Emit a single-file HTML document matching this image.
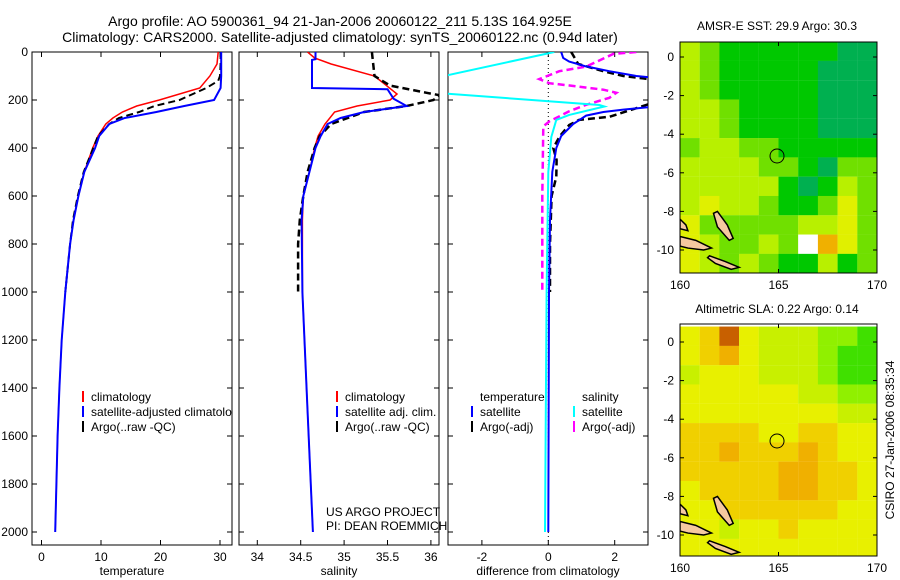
<!DOCTYPE html>
<html><head><meta charset="utf-8">
<style>
html,body{margin:0;padding:0;background:#fff;}
svg{display:block;font-family:"Liberation Sans",sans-serif;}
text{font-size:12px;fill:#000;}
</style></head>
<body>
<svg id="fig" width="900" height="580" viewBox="0 0 900 580" xmlns="http://www.w3.org/2000/svg">
<defs>
<clipPath id="c1"><rect x="32" y="52" width="200" height="493"/></clipPath>
<clipPath id="c2"><rect x="239" y="52" width="200" height="493"/></clipPath>
<clipPath id="c3"><rect x="448" y="52" width="200" height="493"/></clipPath>
<clipPath id="cm1"><rect x="680" y="42" width="197" height="231"/></clipPath>
<clipPath id="cm2"><rect x="680" y="324" width="197" height="232"/></clipPath>
</defs>
<text x="340" y="26" text-anchor="middle" style="font-size:14px">Argo profile: AO 5900361_94 21-Jan-2006 20060122_211 5.13S 164.925E</text>
<text x="340" y="42" text-anchor="middle" style="font-size:14px">Climatology: CARS2000. Satellite-adjusted climatology: synTS_20060122.nc (0.94d later)</text>
<g id="layer"></g>
<text x="777" y="30" text-anchor="middle">AMSR-E SST: 29.9 Argo: 30.3</text>
<text x="777" y="313" text-anchor="middle">Altimetric SLA: 0.22 Argo: 0.14</text>
<text transform="translate(894,440) rotate(-90)" text-anchor="middle">CSIRO 27-Jan-2006 08:35:34</text>
<text x="326" y="516">US ARGO PROJECT</text>
<text x="326" y="530">PI: DEAN ROEMMICH</text>
</svg>
<script>
// ---- data ----
const tDepth = [0,50,100,150,200,225,250,275,300,350,400,500,600,700,800,1000,1200,1400,1600,1800,2000];
const tClim  = [29.7,29.5,28.3,26.6,19.8,16,13.6,12,10.8,9.5,8.6,7.2,6.2,5.4,4.8,4.0,3.4,3.0,2.7,2.5,2.3];
const tSat   = [30.2,30.2,30.2,30.1,29,24,19.3,14,11.4,9.7,9.0,7.2,6.2,5.4,4.8,4.0,3.4,3.0,2.7,2.5,2.3];
const tArgoDepth = [0,50,100,120,150,200,225,250,275,300,350,400,500,600,700,800,1000];
const tArgo  = [30.1,30.1,30.0,29.7,27.7,23.2,19,16.4,13,11.4,9.5,8.7,7.1,6.1,5.3,4.8,4.0];
const sDepth = [0,25,50,100,175,200,225,250,300,350,400,500,600,700,1000,1500,2000];
const sClim  = [34.58,34.66,34.85,35.35,35.61,35.53,35.15,34.89,34.78,34.7,34.66,34.6,34.53,34.52,34.52,34.58,34.64];
const sSatDepth = [0,30,33,150,155,195,225,250,275,300,350,400,500,600,700,1000,1500,2000];
const sSat   = [34.67,34.67,34.63,34.63,35.5,35.57,35.72,35.23,34.96,34.81,34.73,34.67,34.6,34.53,34.51,34.52,34.58,34.64];
const sArgoDepth = [0,100,140,170,180,200,225,250,300,350,400,500,600,700,800,1000];
const sArgo  = [35.32,35.35,35.53,35.95,36.1,36.03,35.72,35.23,34.85,34.72,34.66,34.58,34.53,34.49,34.47,34.47];
const dTSatDepth = [0,25,40,60,80,100,110,225,230,240,250,265,300,350,400,500,700,1000,2000];
const dTSat  = [0.39,0.45,0.63,1.14,1.84,2.65,3.4,3.4,3.0,2.26,1.66,1.14,0.75,0.39,0.24,0.12,0.05,0.02,0];
const dTArgoDepth = [0,50,80,100,110,120,200,230,270,283,304,350,400,450,520,600,800,1000];
const dTArgo = [0.69,0.9,1.66,2.26,2.86,3.4,3.4,2.74,1.84,0.93,0.63,0.35,0.15,0.25,0.24,0.1,0.05,0.05];
const dSSatDepth = [0,108,170,221,227,262,283,354,500,1000,2000];
const dSSat  = [0.18,-3.4,-3.4,1.54,1.69,0.63,0.24,0.09,0.0,-0.05,-0.1];
const dSArgoDepth = [0,8,61,80,113,130,143,157,170,191,220,247,289,310,600,1000];
const dSArgo = [2.65,1.96,1.14,0.33,-0.27,0.03,0.84,1.66,2.05,1.84,1.14,0.63,0.03,-0.15,-0.18,-0.18];
const tTicks = [0,10,20,30];
const sTicks = [34,34.5,35,35.5,36];
const dTicks = [-2,0,2];
const depthTicks = [0,200,400,600,800,1000,1200,1400,1600,1800,2000];
const lonTicks = [160,165,170];
const latTicks = [0,-2,-4,-6,-8,-10];
const sstGrid = [
[3,2,1,1,1,1,1,1,0,0],
[3,2,1,1,1,1,1,0,0,0],
[3,2,1,1,1,1,1,0,0,0],
[3,3,2,1,1,1,1,0,0,0],
[3,3,2,1,1,1,1,0,0,0],
[2,3,3,2,2,1,1,1,1,1],
[3,3,3,3,2,2,1,0,2,2],
[3,3,3,3,3,1,0,1,3,2],
[3,4,3,3,2,1,1,2,4,2],
[4,2,2,2,2,2,3,3,4,2],
[4,3,2,2,3,2,6,5,4,2],
[4,3,2,3,2,1,1,3,1,2]];
const slaGrid = [
[4,5,7,4,3,3,3,2,2,1],
[4,5,6,4,3,3,3,2,1,1],
[3,4,4,4,3,3,3,2,1,1],
[4,4,4,4,4,4,3,3,2,2],
[4,4,4,4,4,4,4,4,3,3],
[5,5,5,5,4,4,5,5,4,4],
[5,5,6,5,5,5,6,5,4,4],
[5,5,5,5,5,6,6,5,5,4],
[4,5,5,5,5,6,6,5,5,4],
[4,4,5,5,5,5,5,5,4,4],
[4,4,3,4,4,5,4,4,4,4],
[4,4,4,4,4,4,4,4,4,4]];
const sstColors = ['#00b050','#00c800','#70e000','#b8f000','#e0f000','#f0b000','#ffffff'];
const slaColors = ['#00d000','#40e000','#90f000','#c8f000','#e8f000','#f0d000','#f0b000','#c86000'];

// ---- helpers ----
const NS='http://www.w3.org/2000/svg';
const layer=document.getElementById('layer');
function mk(tag,attrs,parent){const e=document.createElementNS(NS,tag);for(const k in attrs)e.setAttribute(k,attrs[k]);(parent||layer).appendChild(e);return e;}
const yD = d => 52 + d*0.24;
const xT = v => 41.5 + v*5.95;
const xS = v => 257.3 + (v-34)*86.8;
const xDf = v => 548.3 + v*33.2;

function frame(x,y,w,h,name){const r=mk('rect',{x:x,y:y,width:w,height:h,fill:'none',stroke:'#000','stroke-width':1});

}

function profile(depths,vals,xf,color,dash,width,clip,name){
  const pts=depths.map((d,i)=>xf(vals[i]).toFixed(1)+','+yD(d).toFixed(1)).join(' ');
  const p=mk('polyline',{points:pts,fill:'none',stroke:color,'stroke-width':width,'stroke-dasharray':dash||'none','clip-path':'url(#'+clip+')'});
  
  
}

const panels=[{x:32,w:200,xf:xT,ticks:tTicks,lab:'temperature',name:'temperature'},
{x:239,w:200,xf:xS,ticks:sTicks,lab:'salinity',name:'salinity'},
{x:448,w:200,xf:xDf,ticks:dTicks,lab:'difference from climatology',name:'difference'}];
panels.forEach((p,i)=>{
  frame(p.x,52,p.w,493,p.name+'-panel-frame');
  p.ticks.forEach(v=>{const x=p.xf(v);
    mk('line',{x1:x,x2:x,y1:545,y2:540,stroke:'#000'});mk('line',{x1:x,x2:x,y1:52,y2:57,stroke:'#000'});
    const t=mk('text',{x:x,y:561,'text-anchor':'middle'});t.textContent=String(v);
    
    });
  depthTicks.forEach(d=>{const y=yD(d);
    mk('line',{x1:p.x,x2:p.x+5,y1:y,y2:y,stroke:'#000'});mk('line',{x1:p.x+p.w-5,x2:p.x+p.w,y1:y,y2:y,stroke:'#000'});
    if(i===0){const t=mk('text',{x:28,y:y+4,'text-anchor':'end'});t.textContent=String(d);
    
    }});
  const xl=mk('text',{x:p.x+p.w/2,y:575,'text-anchor':'middle'});xl.textContent=p.lab;
  
  
});
mk('line',{x1:548.3,x2:548.3,y1:52,y2:545,stroke:'#000','stroke-dasharray':'1,3'});

profile(tDepth,tClim,xT,'#ff0000','',1.5,'c1','temp-climatology-line');
profile(tArgoDepth,tArgo,xT,'#000','7,4',2,'c1','temp-argo-line');
profile(tDepth,tSat,xT,'#0000ff','',2,'c1','temp-satellite-line');
profile(sDepth,sClim,xS,'#ff0000','',1.5,'c2','sal-climatology-line');
profile(sArgoDepth,sArgo,xS,'#000','7,4',2.5,'c2','sal-argo-line');
profile(sSatDepth,sSat,xS,'#0000ff','',2,'c2','sal-satellite-line');
profile(dSArgoDepth,dSArgo,xDf,'#ff00ff','7,4',2.5,'c3','sal-diff-argo-line');
profile(dTArgoDepth,dTArgo,xDf,'#000','7,4',2.5,'c3','temp-diff-argo-line');
profile(dTSatDepth,dTSat,xDf,'#0000ff','',2,'c3','temp-diff-satellite-line');
profile(dSSatDepth,dSSat,xDf,'#00ffff','',2,'c3','sal-diff-satellite-line');

function legendEntry(x,y,color,label,clip,name){
  if(color) mk('line',{x1:x,x2:x,y1:y-10,y2:y+1,stroke:color,'stroke-width':2});
  const t=mk('text',{x:x+8,y:y,'clip-path':'url(#'+clip+')'});t.textContent=label;
  
  
}
legendEntry(83,401,'#ff0000','climatology','c1','legend-temp-climatology');
legendEntry(83,416,'#0000ff','satellite-adjusted climatology','c1','legend-temp-satellite');
legendEntry(83,431,'#000','Argo(..raw -QC)','c1','legend-temp-argo');
legendEntry(337,401,'#ff0000','climatology','c2','legend-sal-climatology');
legendEntry(337,416,'#0000ff','satellite adj. clim.','c2','legend-sal-satellite');
legendEntry(337,431,'#000','Argo(..raw -QC)','c2','legend-sal-argo');
legendEntry(472,401,null,'temperature','c3','legend-temperature-header');
legendEntry(472,416,'#0000ff','satellite','c3','legend-diff-temp-satellite');
legendEntry(472,431,'#000','Argo(-adj)','c3','legend-diff-temp-argo');
legendEntry(574,401,null,'salinity','c3','legend-salinity-header');
legendEntry(574,416,'#00ffff','satellite','c3','legend-diff-sal-satellite');
legendEntry(574,431,'#ff00ff','Argo(-adj)','c3','legend-diff-sal-argo');

// ---- maps ----
function map(top,lat0y,grid,colors,clip,name){
  const xL=lon=>680+(lon-160)*19.7;
  const yL=lat=>lat0y-lat*19.3;
  const g=mk('g',{'clip-path':'url(#'+clip+')'});
  grid.forEach((row,r)=>row.forEach((v,c)=>{
    const cell=mk('rect',{x:xL(160+c),y:yL(0.8-r),width:19.8,height:19.4,fill:colors[v]},g);
    
    
  }));
  const isl=[[[161.9,-8.0],[162.4,-8.7],[162.7,-9.4],[162.5,-9.5],[161.9,-8.8],[161.7,-8.1]],
             [[160,-9.3],[160.8,-9.5],[161.6,-9.9],[161.2,-10.0],[160.4,-9.9],[160,-9.8]],
             [[161.5,-10.3],[162.3,-10.6],[163.0,-10.9],[162.6,-11.0],[161.8,-10.7],[161.4,-10.4]],
             [[160,-8.4],[160.3,-8.7],[160.4,-9.0],[160,-8.9]]];
  isl.forEach(poly=>{const p=mk('polygon',{points:poly.map(q=>xL(q[0])+','+yL(q[1])).join(' '),fill:'#f5c8a0',stroke:'#000','stroke-width':1.5},g);
    
    });
  const c=mk('circle',{cx:xL(164.925),cy:yL(-5.13),r:7,fill:'none',stroke:'#000','stroke-width':1});
  
  
  const h=(name==='sst-map'?231:232);
  frame(680,top,197,h,name+'-frame');
  const bottom=top+h;
  lonTicks.forEach(v=>{const x=xL(v);mk('line',{x1:x,x2:x,y1:bottom,y2:bottom-4,stroke:'#000'});mk('line',{x1:x,x2:x,y1:top,y2:top+4,stroke:'#000'});
    const t=mk('text',{x:x,y:bottom+16,'text-anchor':'middle'});t.textContent=String(v);
    
    });
  latTicks.forEach(v=>{const y=yL(v);mk('line',{x1:680,x2:684,y1:y,y2:y,stroke:'#000'});mk('line',{x1:873,x2:877,y1:y,y2:y,stroke:'#000'});
    const t=mk('text',{x:674,y:y+4,'text-anchor':'end'});t.textContent=String(v);
    
    });
}
map(42,57,sstGrid,sstColors,'cm1','sst-map');
map(324,342,slaGrid,slaColors,'cm2','sla-map');
</script>
</body></html>
